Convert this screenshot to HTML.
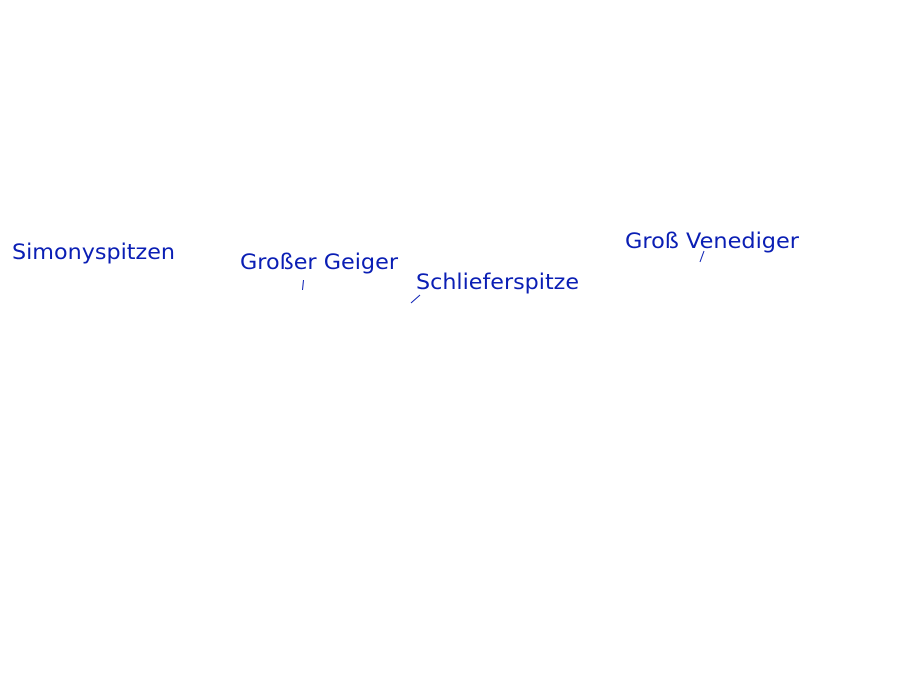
<!DOCTYPE html>
<html><head><meta charset="utf-8"><style>
body{margin:0;width:900px;height:675px;background:#fff;overflow:hidden}
</style></head><body>
<svg width="900" height="675" xmlns="http://www.w3.org/2000/svg" style="display:block">
<g font-family="DejaVu Sans, sans-serif" font-size="21.5" fill="#0a1eb4">
<text x="12" y="259" textLength="163" lengthAdjust="spacingAndGlyphs">Simonyspitzen</text>
<text x="240" y="269" textLength="158" lengthAdjust="spacingAndGlyphs">Großer Geiger</text>
<text x="416" y="289" textLength="163" lengthAdjust="spacingAndGlyphs">Schlieferspitze</text>
<text x="625" y="248" textLength="174" lengthAdjust="spacingAndGlyphs">Groß Venediger</text>
</g>
<g stroke="#0a1eb4" stroke-width="1" fill="none">
<line x1="303.5" y1="280" x2="302.5" y2="290"/>
<line x1="420" y1="295" x2="411" y2="303"/>
<line x1="704" y1="251" x2="700" y2="262"/>
</g>
</svg>
</body></html>
